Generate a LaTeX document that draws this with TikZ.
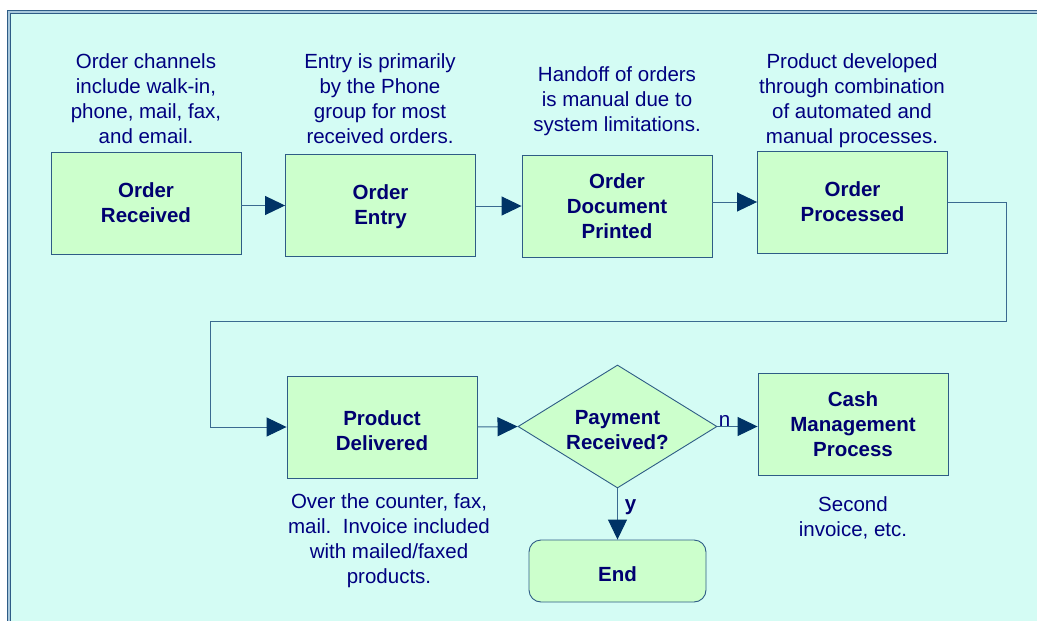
\documentclass[tikz,border=0pt]{standalone}
\usepackage{fontspec}
\setmainfont{Liberation Sans}
\usetikzlibrary{arrows.meta,shapes.geometric}
\definecolor{bgc}{HTML}{D4FCF4}
\definecolor{boxc}{HTML}{CCFFCC}
\definecolor{edgec}{HTML}{2E5C86}
\definecolor{linec}{HTML}{3A6A90}
\definecolor{tipc}{HTML}{003366}
\definecolor{txtc}{HTML}{000080}
\definecolor{btxtc}{HTML}{000070}
\definecolor{gapc}{HTML}{A8C8DC}
\tikzset{
  proc/.style={draw=edgec, fill=boxc, line width=0.9pt, minimum width=190pt, minimum height=102pt, inner sep=0pt, align=center, text=btxtc, font=\fontsize{20.5}{25}\selectfont\bfseries},
  endbox/.style={proc, rounded corners=12pt, minimum width=177pt, minimum height=62pt},
  dia/.style={draw=edgec, fill=boxc, line width=0.9pt, diamond, minimum width=199pt, minimum height=123pt, inner sep=0pt},
  boldtxt/.style={align=center, text=btxtc, font=\fontsize{20.5}{25}\selectfont\bfseries, inner sep=0pt},
  note/.style={align=center, text=txtc, font=\fontsize{20.5}{25}\selectfont, inner sep=0pt},
  conn/.style={draw=linec, line width=1pt, -{Triangle[length=20pt,width=19pt,color=tipc]}},
  lbln/.style={text=txtc, font=\fontsize{20.5}{25}\selectfont, inner sep=0pt, anchor=base},
  lbly/.style={text=btxtc, font=\fontsize{20.5}{25}\selectfont\bfseries, inner sep=0pt, anchor=base}
}
\begin{document}
\begin{tikzpicture}[x=1pt,y=-1pt]
\useasboundingbox (0,0) rectangle (1037,621);
\fill[white] (0,0) rectangle (1037,621);
\fill[bgc] (8,11) rectangle (1045,630);
\draw[draw=edgec, double=gapc, double distance=1.6pt, line width=1.1pt] (9,12) rectangle (1045,630);

% process boxes
\node[proc] (or)  at (146,203) {Order\\Received};
\node[proc] (oe)  at (380.5,205.5) {};
\node[boldtxt] (oet) at (380.5,207) {Order\\Entry};
\node[proc] (odp) at (617,206) {Order\\Document\\Printed};
\node[proc] (op)  at (852.5,202) {Order\\Processed};
\node[proc] (pd)  at (382,427) {};
\node[boldtxt] (pdt) at (382,431) {Product\\Delivered};
\node[dia]  (pay) at (617.5,426.5) {};
\node[boldtxt] (payt) at (617.5,430) {Payment\\Received?};
\node[proc] (cash) at (853,424.5) {Cash\\Management\\Process};
\node[endbox] (end) at (617.5,571) {};
\node[boldtxt] (endt) at (617.5,574) {End};

% notes
\node[note] (n1) at (146,98.5) {Order channels\\include walk-in,\\phone, mail, fax,\\and email.};
\node[note] (n2) at (380,98.5) {Entry is primarily\\by the Phone\\group for most\\received orders.};
\node[note] (n3) at (617,101) {Handoff of orders\\is manual due to\\system limitations.};
\node[note] (n4) at (852,100.5) {Product developed\\through combination\\of automated and\\manual processes.};
\node[note] (n5) at (389,540.5) {Over the counter, fax,\\mail.\ \ Invoice included\\with mailed/faxed\\products.};
\node[note] (n6) at (853,517.5) {Second\\invoice, etc.};

% connectors
\coordinate (c1) at (1006,321);
\coordinate (c2) at (210,321);
\draw[conn] (or.east |- oe) -- (oe.west);
\draw[conn] (oe.east |- odp) -- (odp.west);
\draw[conn] (odp.east |- op) -- (op.west);
\draw[conn] (op.east) -| (c1) -- (c2) |- (pd.west);
\draw[conn] (pd.east) -- (pay.west);
\draw[conn] (pay.east) -- (cash.west |- pay.east);
\draw[conn] (pay.south) -- (end.north);
\node[lbln] (ln) at (724.5,426) {n};
\node[lbly] (ly) at (630.5,510) {y};
\end{tikzpicture}
\end{document}
